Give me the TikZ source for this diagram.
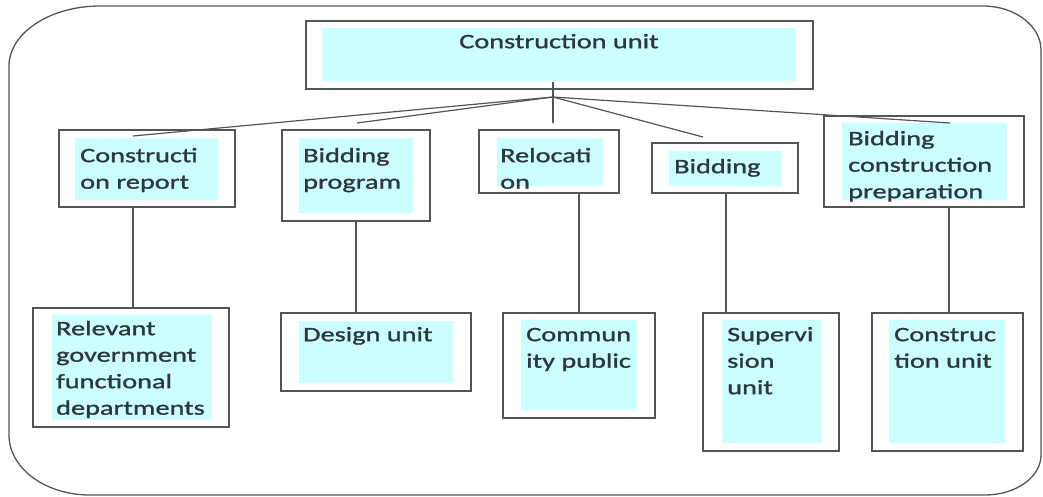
\documentclass[tikz,border=0pt]{standalone}
\usepackage{fontspec}
\setmainfont{Carlito}[FakeStretch=1.38,FakeBold=1.3]
\usetikzlibrary{fit}
\definecolor{cyanfill}{RGB}{204,255,255}
\definecolor{linec}{RGB}{85,85,85}
\definecolor{textc}{RGB}{45,55,62}
\newcommand\lblfont{\fontsize{20.5}{26.5}\selectfont}
\newcommand\lstrut{\rule{0pt}{16pt}}
\begin{document}
\begin{tikzpicture}[x=1pt,y=-1pt,
  obox/.style={draw=linec, line width=1.4pt, inner sep=0pt, rectangle},
  cbox/.style={fill=cyanfill, inner sep=0pt, rectangle},
  txt/.style={inner sep=0pt, anchor=north west, align=left, font=\lblfont, text=textc},
  conn/.style={draw=linec, line width=1.2pt},
  frame/.style={draw=linec, line width=1.3pt}]

\useasboundingbox (0,0) rectangle (1043,497);

% outer rounded frame
\draw[frame] (100,6) -- (983,6) .. controls (1015,6) and (1041,26) .. (1041,50)
  -- (1041,455) .. controls (1041,477) and (1016,495) .. (985,495)
  -- (90,495) .. controls (45,495) and (9,468) .. (9,435)
  -- (9,66) .. controls (9,33) and (50,6) .. (100,6) -- cycle;

% top box
\node (topc) [cbox, fit={(322,28) (796,81)}] {};
\node (top) [obox, fit={(306,21) (813,89)}] {};
\node (topt) [txt, anchor=north] at (559,32) {\lstrut Construction unit};

% level 1
\node (b1c) [cbox, fit={(75,138) (218,200)}] {};
\node (b1) [obox, fit={(59,130) (235,207)}] {};
\node (b1t) [txt] at (80,146) {\lstrut Constructi\\on report};

\node (b2c) [cbox, fit={(299,138) (413,213)}] {};
\node (b2) [obox, fit={(282,130) (430,221)}] {};
\node (b2t) [txt] at (303,146) {\lstrut Bidding\\program};

\node (b3c) [cbox, fit={(497,138) (603,186)}] {};
\node (b3) [obox, fit={(479,130) (619,193)}] {};
\node (b3t) [txt] at (500,146) {\lstrut Relocati\\on};

\node (b4c) [cbox, fit={(669,151) (782,186)}] {};
\node (b4) [obox, fit={(652,143) (798,193)}] {};
\node (b4t) [txt] at (674,157) {\lstrut Bidding};

\node (b5c) [cbox, fit={(842,123) (1007,200)}] {};
\node (b5) [obox, fit={(824,116) (1024,207)}] {};
\node (b5t) [txt] at (848,129) {\lstrut Bidding\\construction\\preparation};

% level 2
\node (c1c) [cbox, fit={(52,315) (212,420)}] {};
\node (c1) [obox, fit={(33,308) (229,427)}] {};
\node (c1t) [txt] at (56,319) {\lstrut Relevant\\government\\functional\\departments};

\node (c2c) [cbox, fit={(299,321) (453,383)}] {};
\node (c2) [obox, fit={(281,313) (471,391)}] {};
\node (c2t) [txt] at (303,325) {\lstrut Design unit};

\node (c3c) [cbox, fit={(521,320) (637,410)}] {};
\node (c3) [obox, fit={(503,313) (655,418)}] {};
\node (c3t) [txt] at (526,325) {\lstrut Commun\\ity public};

\node (c4c) [cbox, fit={(722,320) (822,443)}] {};
\node (c4) [obox, fit={(703,313) (839,451)}] {};
\node (c4t) [txt] at (727,325) {\lstrut Supervi\\sion\\unit};

\node (c5c) [cbox, fit={(889,320) (1005,443)}] {};
\node (c5) [obox, fit={(872,313) (1023,451)}] {};
\node (c5t) [txt] at (894,325) {\lstrut Construc\\tion unit};

% junction and connector ends
\coordinate (j) at (553,97);
\coordinate (jt) at (553,82);
\coordinate (jb) at (553,123);
\coordinate (e1) at (133,136);
\coordinate (e2) at (357,123);
\coordinate (e4) at (703,137);
\coordinate (e5) at (950,123);
\draw[conn] (jt) -- (jb);
\draw[conn] (j) -- (e1);
\draw[conn] (j) -- (e2);
\draw[conn] (j) -- (e4);
\draw[conn] (j) -- (e5);

% vertical connectors
\coordinate (v1) at (133,0);
\coordinate (v2) at (356,0);
\coordinate (v3) at (579,0);
\coordinate (v4) at (726,0);
\coordinate (v5) at (949,0);
\draw[conn] (b1.south -| v1) -- (c1.north -| v1);
\draw[conn] (b2.south -| v2) -- (c2.north -| v2);
\draw[conn] (b3.south -| v3) -- (c3.north -| v3);
\draw[conn] (b4.south -| v4) -- (c4.north -| v4);
\draw[conn] (b5.south -| v5) -- (c5.north -| v5);
\end{tikzpicture}
\end{document}
